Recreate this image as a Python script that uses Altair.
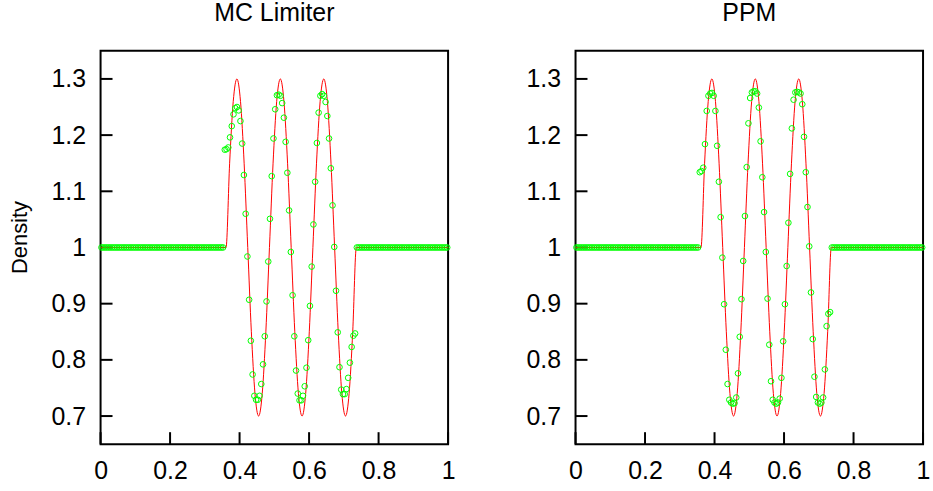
import altair as alt
import pandas as pd

# ---- data ----
n_cells = 200
x_cells = [round(0.0025 + 0.005 * i, 4) for i in range(n_cells)]

# MC limiter: cells 71..146 (the rest are 1.0)
mc_wave = [
    1.174, 1.175, 1.178, 1.196, 1.216, 1.237, 1.248, 1.250, 1.244, 1.225, 1.185, 1.129, 1.060,
    0.984,
    0.907, 0.834, 0.774, 0.736, 0.729, 0.729, 0.736, 0.757, 0.792, 0.842, 0.904, 0.975, 1.051,
    1.127, 1.194, 1.246, 1.271, 1.272, 1.270, 1.257, 1.231, 1.188, 1.133, 1.066, 0.992,
    0.915, 0.842, 0.781, 0.740, 0.728, 0.728, 0.736, 0.753, 0.786, 0.835, 0.896, 0.966, 1.041,
    1.117, 1.186, 1.240, 1.270, 1.273, 1.270, 1.259, 1.234, 1.194, 1.141, 1.075, 1.001,
    0.923, 0.849, 0.787, 0.747, 0.739, 0.739, 0.748, 0.768, 0.795, 0.823, 0.843, 0.847,
]
# PPM: cells 71..146
ppm_wave = [
    1.134, 1.136, 1.142, 1.184, 1.243, 1.270, 1.274, 1.275, 1.270, 1.243, 1.181, 1.117, 1.054,
    0.982,
    0.899, 0.818, 0.757, 0.729, 0.724, 0.722, 0.723, 0.733, 0.776, 0.841, 0.908, 0.976, 1.056,
    1.143, 1.221, 1.266, 1.276, 1.278, 1.278, 1.274, 1.249, 1.189, 1.125, 1.063, 0.992,
    0.909, 0.827, 0.762, 0.729, 0.724, 0.722, 0.724, 0.731, 0.768, 0.833, 0.899, 0.967, 1.044,
    1.131, 1.212, 1.263, 1.276, 1.277, 1.276, 1.274, 1.255, 1.197, 1.134, 1.072, 1.002,
    0.920, 0.837, 0.770, 0.734, 0.724, 0.722, 0.724, 0.733, 0.783, 0.860, 0.882, 0.885,
]
mc_density = [1.0] * 71 + mc_wave + [1.0] * 53
ppm_density = [1.0] * 71 + ppm_wave + [1.0] * 53

# exact solution (red curve)
exact_x = [
    0.0, 0.361, 0.3714, 0.3818, 0.3923, 0.4027, 0.4131, 0.4235, 0.4339, 0.4443, 0.4548,
    0.4652, 0.4756, 0.486, 0.4964, 0.5068, 0.5173, 0.5277, 0.5381, 0.5485, 0.5589, 0.5693,
    0.5798, 0.5902, 0.6006, 0.611, 0.6214, 0.6318, 0.6423, 0.6527, 0.6631, 0.6735, 0.6839,
    0.6943, 0.7048, 0.7152, 0.7256, 0.736, 1.0,
]
exact_rho = [
    1.0, 1.0, 1.15, 1.26, 1.30, 1.26, 1.15, 1.0, 0.85, 0.74, 0.70,
    0.74, 0.85, 1.0, 1.15, 1.26, 1.30, 1.26, 1.15, 1.0, 0.85, 0.74,
    0.70, 0.74, 0.85, 1.0, 1.15, 1.26, 1.30, 1.26, 1.15, 1.0, 0.85,
    0.74, 0.70, 0.74, 0.85, 1.0, 1.0,
]

x_ticks = [0, 0.2, 0.4, 0.6, 0.8, 1]
y_ticks = [0.7, 0.8, 0.9, 1.0, 1.1, 1.2, 1.3]

W, H = 349, 395
FONT = "Liberation Sans"


def panel(density, title, ytitle):
    pts = pd.DataFrame({"x": x_cells, "rho": density})
    ex = pd.DataFrame({"x": exact_x, "rho": exact_rho})
    xs = alt.Scale(domain=[0, 1], nice=False, zero=False)
    ys = alt.Scale(domain=[0.65, 1.35], nice=False, zero=False)
    xaxis = alt.Axis(values=x_ticks, format="~g", ticks=False, domain=False, grid=False,
                     labelFontSize=25, labelPadding=15, title=None, labelFlush=False)
    if ytitle:
        yaxis = alt.Axis(values=y_ticks, format="~g", ticks=False, domain=False, grid=False,
                         labelFontSize=25, labelPadding=15, title=ytitle,
                         titleFontSize=22, titlePadding=20, titleFontWeight="normal",
                         titleY=187, labelFlush=False)
    else:
        yaxis = alt.Axis(values=y_ticks, format="~g", ticks=False, domain=False, grid=False,
                         labelFontSize=25, labelPadding=15, title=None, labelFlush=False)
    yt = alt.Chart(pd.DataFrame({"rho": y_ticks})).mark_rule(color="black", strokeWidth=2).encode(
        y=alt.Y("rho:Q", scale=ys, axis=yaxis), x=alt.value(0), x2=alt.value(12)
    )
    xt = alt.Chart(pd.DataFrame({"x": x_ticks})).mark_rule(color="black", strokeWidth=2).encode(
        x=alt.X("x:Q", scale=xs, axis=xaxis), y=alt.value(H), y2=alt.value(H - 12)
    )
    line = alt.Chart(ex).mark_line(color="#ff0000", strokeWidth=1, interpolate="monotone").encode(
        x="x:Q", y="rho:Q"
    )
    points = alt.Chart(pts).mark_point(shape="circle", filled=False, color="#00ff00",
                                       size=32, strokeWidth=1, opacity=1).encode(
        x="x:Q", y="rho:Q"
    )
    return alt.layer(yt, xt, line, points).properties(
        width=W, height=H,
        title=alt.TitleParams(text=title, fontSize=25, font=FONT, fontWeight="normal",
                              color="black", baseline="alphabetic", offset=5),
    )


left = panel(mc_density, "MC Limiter", "Density")
right = panel(ppm_density, "PPM", None)

chart = alt.hconcat(left, right, spacing=69).properties(
    padding={"left": 7, "top": -1, "right": 2, "bottom": 2},
    background="white",
).configure_view(stroke="black", strokeWidth=2).configure_axis(
    labelFont=FONT, titleFont=FONT, labelColor="black", titleColor="black"
).configure_title(font=FONT)

chart.save("out.html", embed_options={"renderer": "svg", "actions": False})
